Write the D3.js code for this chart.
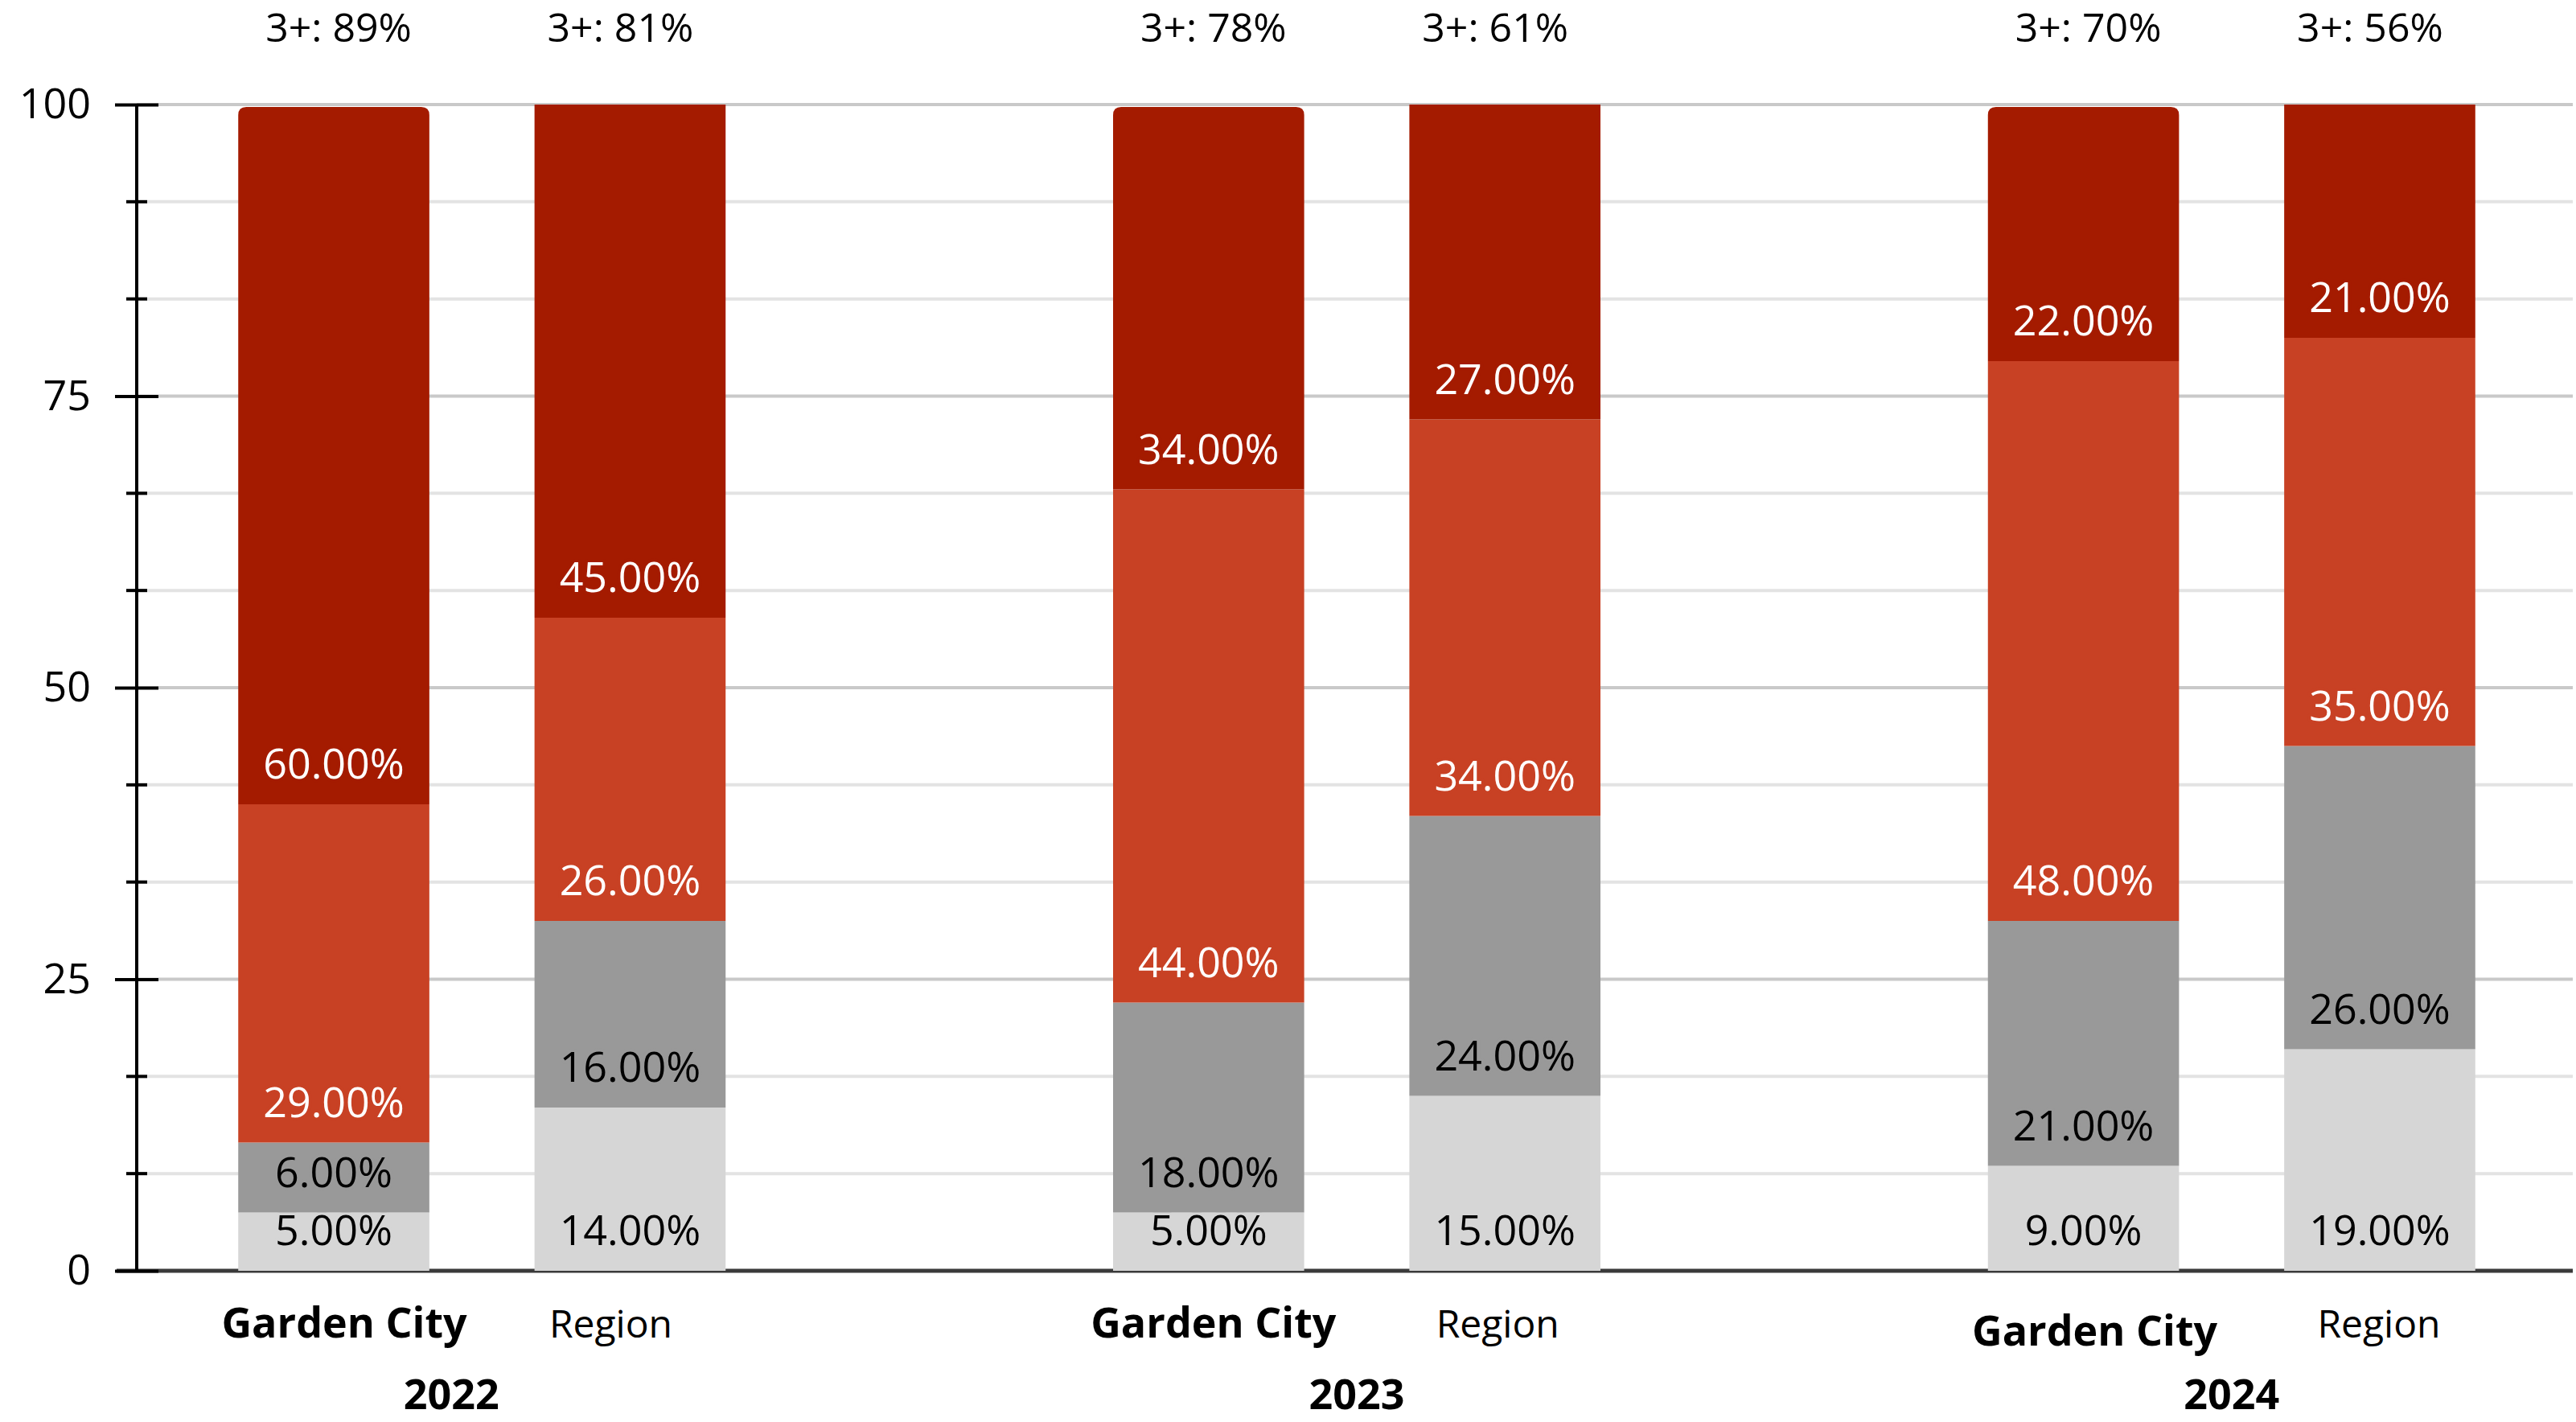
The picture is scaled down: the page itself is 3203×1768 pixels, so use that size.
<!DOCTYPE html>
<html>
<head>
<meta charset="utf-8">
<script src="https://cdn.jsdelivr.net/npm/d3@7"></script>
<style>
  html, body { margin: 0; padding: 0; background: #fff; }
  svg text { font-family: "Open Sans", "Noto Sans", sans-serif; }
</style>
</head>
<body>
<div id="chart"></div>
<script>
// data, bars in order: 2022 GC, 2022 Region, 2023 GC, 2023 Region, 2024 GC, 2024 Region
var years = ["2022", "2023", "2024"];
var places = ["Garden City", "Region"];
var levels = ["Level 1", "Level 2", "Level 3", "Level 4"];
var level1 = [5, 14, 5, 15, 9, 19];
var level2 = [6, 16, 18, 24, 21, 26];
var level3 = [29, 26, 44, 34, 48, 35];
var level4 = [60, 45, 34, 27, 22, 21];
var threePlus = [89, 81, 78, 61, 70, 56];
var majorTicks = [0, 25, 50, 75, 100];

var width = 3203,
    height = 1768,
    margin = {top: 130, right: 4, bottom: 188, left: 170},
    colors = ["#d6d6d6", "#999999", "#c84124", "#a41b00"],
    labelColors = ["#000", "#000", "#fff", "#fff"];

var rows = [];
years.forEach(function(yr, i) {
  places.forEach(function(p, j) {
    var k = i * places.length + j;
    rows.push({
      year: yr, place: p, top: threePlus[k],
      "Level 1": level1[k], "Level 2": level2[k],
      "Level 3": level3[k], "Level 4": level4[k]
    });
  });
});

var stack = d3.stack().keys(levels)(rows);

var x0 = d3.scalePoint()
  .domain(years)
  .range([margin.left + 5, width - margin.right])
  .padding(0.39);

var x1 = d3.scaleBand()
  .domain(places)
  .range([-303, 303])
  .paddingInner(0.355);

var y = d3.scaleLinear()
  .domain([0, 100])
  .range([height - margin.bottom, margin.top])
  .clamp(true);

var svg = d3.select("#chart").append("svg")
  .attr("width", width)
  .attr("height", height);

// grid lines, one every third of a major step
var minor = d3.range(13).map(function(i) { return i * 100 / 12; });
svg.append("g").selectAll("line")
  .data(minor.slice(1))
  .enter().append("line")
  .attr("x1", margin.left)
  .attr("x2", width - margin.right)
  .attr("y1", function(d) { return y(d); })
  .attr("y2", function(d) { return y(d); })
  .attr("stroke", function(d, i) { return (i + 1) % 3 == 0 ? "#c9c9c9" : "#e3e3e3"; })
  .attr("stroke-width", 4);

// baseline
svg.append("line")
  .attr("x1", margin.left - 25)
  .attr("x2", width - margin.right)
  .attr("y1", y(0))
  .attr("y2", y(0))
  .attr("stroke", "#3a3a3a")
  .attr("stroke-width", 5);

// y axis
var yAxis = d3.axisLeft(y)
  .tickValues(majorTicks)
  .tickSize(27)
  .tickSizeOuter(0)
  .tickPadding(30);

var ax = svg.append("g")
  .attr("transform", "translate(" + margin.left + ",0)")
  .call(yAxis);
ax.select(".domain").remove();
ax.selectAll(".tick line").attr("stroke", "#000").attr("stroke-width", 4).attr("x2", -27).attr("x1", 27);
ax.selectAll(".tick text")
  .attr("font-size", 52)
  .attr("font-family", "Open Sans")
  .attr("fill", "#000");

svg.append("g").selectAll("line")
  .data(minor.filter(function(v, i) { return i % 3 != 0; }))
  .enter().append("line")
  .attr("x1", margin.left - 13)
  .attr("x2", margin.left + 13)
  .attr("y1", function(d) { return y(d); })
  .attr("y2", function(d) { return y(d); })
  .attr("stroke", "#000")
  .attr("stroke-width", 4);

svg.append("line")
  .attr("x1", margin.left)
  .attr("x2", margin.left)
  .attr("y1", y(100))
  .attr("y2", y(0))
  .attr("stroke", "#000")
  .attr("stroke-width", 4);

// bars
function barX(d) { return x0(d.data.year) + x1(d.data.place); }

function roundTop(x, y0, w, h, r) {
  return "M" + x + "," + (y0 + h) + "V" + (y0 + r) +
    "Q" + x + "," + y0 + " " + (x + r) + "," + y0 +
    "H" + (x + w - r) +
    "Q" + (x + w) + "," + y0 + " " + (x + w) + "," + (y0 + r) +
    "V" + (y0 + h) + "Z";
}

var layer = svg.append("g").selectAll("g")
  .data(stack)
  .enter().append("g")
  .attr("fill", function(d, i) { return colors[i]; });

layer.selectAll("path")
  .data(function(d) { return d; })
  .enter().append("path")
  .attr("d", function(d) {
    var top = y(d[1]), h = y(d[0]) - y(d[1]);
    var last = this.parentNode.__data__.index == levels.length - 1;
    if (last && d.data.place == "Garden City")
      return roundTop(barX(d), top + 3, x1.bandwidth(), h - 3, 10);
    return roundTop(barX(d), top, x1.bandwidth(), h, 0);
  });

// segment labels, sitting near the base of each segment
layer.each(function(s, i) {
  d3.select(this).selectAll("text")
    .data(s)
    .enter().append("text")
    .attr("x", function(d) { return barX(d) + x1.bandwidth() / 2; })
    .attr("y", function(d) { return y(d[0]) - 32; })
    .attr("text-anchor", "middle")
    .attr("font-size", 52)
    .attr("fill", labelColors[i])
    .attr("stroke", colors[i])
    .attr("stroke-width", 8)
    .attr("stroke-linejoin", "round")
    .attr("paint-order", "stroke")
    .text(function(d) { return d3.format(".2f")(d.data[s.key]) + "%"; });
});

// 3+ labels on top
svg.append("g").selectAll("text")
  .data(rows)
  .enter().append("text")
  .attr("x", function(d, i) { return x0(d.year) + x1(d.place) + x1.bandwidth() / 2 + (i % 2 ? -12 : 6); })
  .attr("y", 52)
  .attr("text-anchor", "middle")
  .attr("font-size", 50)
  .attr("fill", "#000")
  .text(function(d) { return "3+: " + d.top + "%"; });

// category labels
var placeNudge = {"2022": [13, -24], "2023": [6, -9], "2024": [14, -1]};
svg.append("g").selectAll("text")
  .data(rows)
  .enter().append("text")
  .attr("x", function(d) {
    var j = places.indexOf(d.place);
    return x0(d.year) + x1(d.place) + x1.bandwidth() / 2 + placeNudge[d.year][j];
  })
  .attr("y", function(d) { return d.year == "2024" && d.place == "Garden City" ? 1673 : 1663; })
  .attr("text-anchor", "middle")
  .attr("font-size", function(d) { return d.place == "Garden City" ? 52 : 48; })
  .attr("font-weight", function(d) { return d.place == "Garden City" ? 700 : 400; })
  .attr("fill", "#000")
  .text(function(d) { return d.place; });

svg.append("g").selectAll("text")
  .data(years)
  .enter().append("text")
  .attr("x", function(d) { return x0(d) + (d == "2022" ? -38 : 0); })
  .attr("y", 1752)
  .attr("text-anchor", "middle")
  .attr("font-size", 52)
  .attr("font-weight", 700)
  .attr("fill", "#000")
  .text(function(d) { return d; });
</script>
</body>
</html>
